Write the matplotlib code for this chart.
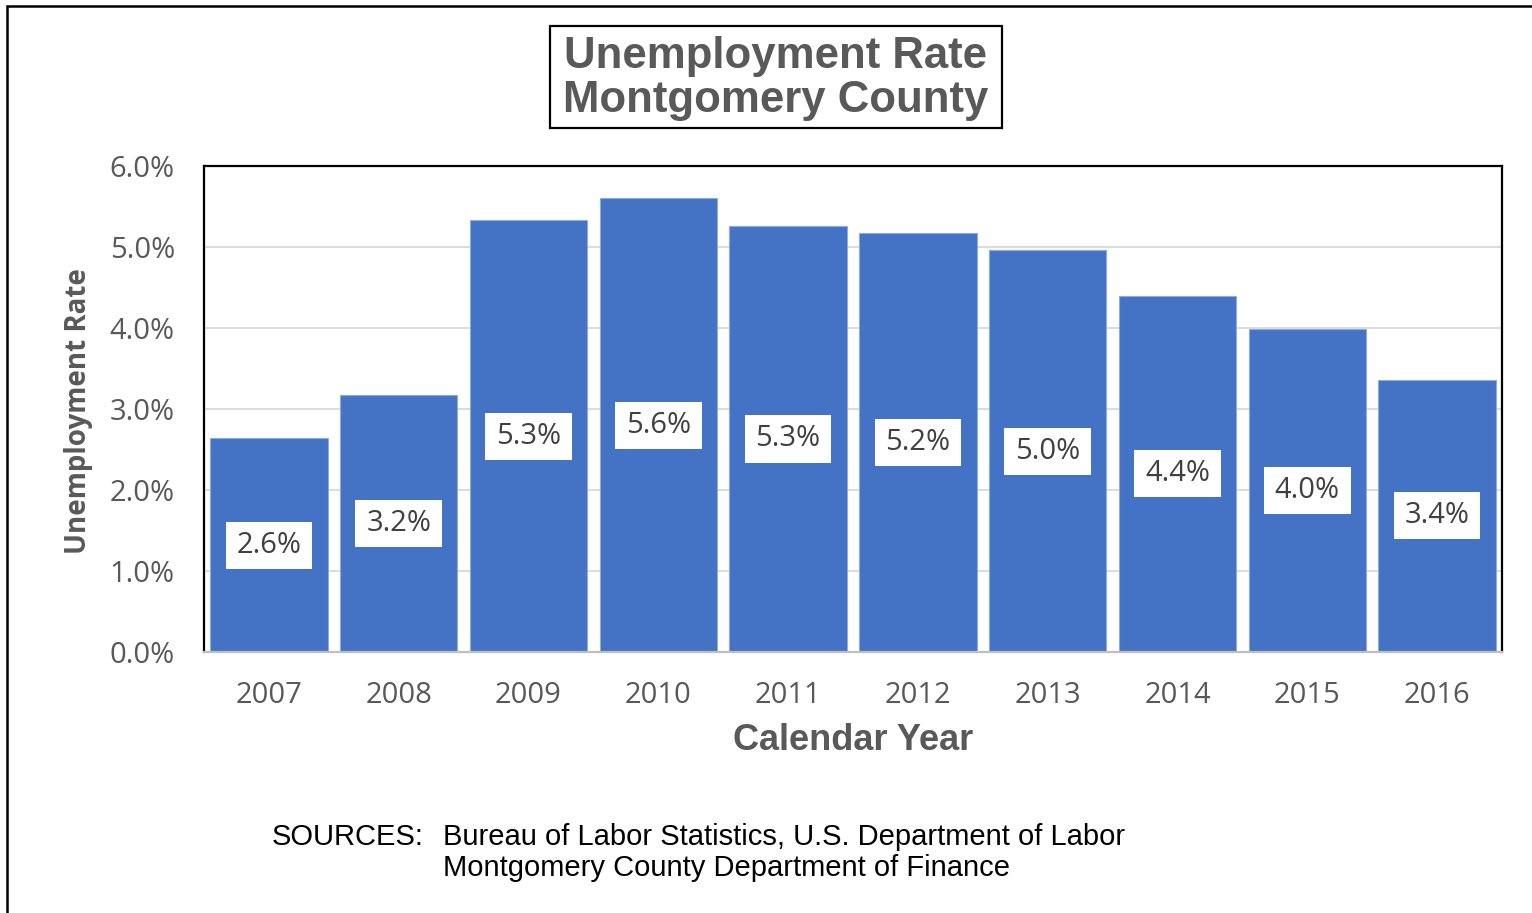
"""Unemployment rate bar chart, Montgomery County 2007-2016."""

import matplotlib
matplotlib.use("Agg")
import matplotlib.pyplot as plt
from matplotlib.patches import Rectangle
from matplotlib.path import Path
from matplotlib.ticker import MultipleLocator, FuncFormatter

years = ["2007", "2008", "2009", "2010", "2011", "2012", "2013", "2014", "2015", "2016"]
rates = [2.64, 3.17, 5.33, 5.60, 5.26, 5.17, 4.96, 4.40, 3.99, 3.36]
title_lines = ["Unemployment Rate", "Montgomery County"]
source_head = "SOURCES:"
source_lines = ["Bureau of Labor Statistics, U.S. Department of Labor",
                "Montgomery County Department of Finance"]

W, H = 1532, 913
BLUE = "#4472C4"
GREY = "#595959"
UI = ["Open Sans", "DejaVu Sans"]
ARIAL = ["Liberation Sans", "DejaVu Sans"]
NARROW = ["Liberation Sans Narrow", "Liberation Sans", "DejaVu Sans"]


def fx(px):
    return px / W


def fy(py):
    return 1 - py / H


def label_box(x0, y0, width, height, mutation_size):
    # white label box, wider padding left/right than top/bottom
    px, py = 0.37 * mutation_size, 0.31 * mutation_size
    x0, y0 = x0 - px, y0 - py
    x1, y1 = x0 + width + 2 * px, y0 + height + 2 * py
    return Path([(x0, y0), (x1, y0), (x1, y1), (x0, y1), (x0, y0)], closed=True)


def main() -> None:
    fig = plt.figure(figsize=(W / 100, H / 100), dpi=100)
    fig.patch.set_facecolor("white")

    # outer frame (only left and top visible in the source image)
    fig.add_artist(Rectangle((fx(7), fy(920)), fx(1560) - fx(7), fy(6) - fy(920),
                             transform=fig.transFigure, fill=False,
                             edgecolor="black", linewidth=1.8, clip_on=False))

    ax = fig.add_axes([fx(204), fy(652), fx(1502) - fx(204), fy(166) - fy(652)])
    x = range(len(years))
    bars = ax.bar(x, rates, width=0.905, color=BLUE, edgecolor="#8faadc",
                  linewidth=0.8, zorder=2)
    ax.set_xlim(-0.5, len(years) - 0.5)
    ax.set_ylim(0, 6)
    ax.yaxis.set_major_locator(MultipleLocator(1))
    ax.yaxis.set_major_formatter(FuncFormatter(lambda v, _: f"{v:.1f}%"))
    ax.set_xticks(list(x), years)
    ax.grid(axis="y", color="#d9d9d9", linewidth=1.3, zorder=0)
    ax.set_axisbelow(True)
    ax.tick_params(length=0, labelsize=21, labelcolor=GREY)
    ax.tick_params(axis="y", pad=21)
    ax.tick_params(axis="x", pad=21)
    for lab in ax.get_xticklabels() + ax.get_yticklabels():
        lab.set_family(UI)
    for side in ("left", "top", "right"):
        ax.spines[side].set_color("black")
        ax.spines[side].set_linewidth(1.6)
    ax.spines["bottom"].set_color("#bfbfbf")
    ax.spines["bottom"].set_linewidth(1.6)

    ax.bar_label(bars, labels=[f"{v:.1f}%" for v in rates], label_type="center",
                 fontsize=21, color="#404040", family=UI,
                 bbox=dict(boxstyle=label_box, facecolor="white", edgecolor="none"))

    fig.text(fx(79), fy(411), "Unemployment Rate", rotation=90, ha="center",
             va="center", fontsize=20, fontweight="bold", color=GREY, family=UI)
    fig.text(fx(853), fy(741), "Calendar Year", ha="center", va="center",
             fontsize=26, fontweight="bold", color=GREY, family=ARIAL)

    # title in its own box
    fig.add_artist(Rectangle((fx(550), fy(128)), fx(1002) - fx(550), fy(26) - fy(128),
                             transform=fig.transFigure, facecolor="white",
                             edgecolor="black", linewidth=1.6))
    for i, line in enumerate(title_lines):
        fig.text(fx(776), fy(68 + 44 * i), line, ha="center", va="baseline",
                 fontsize=31.5, fontweight="bold", color=GREY, family=ARIAL)

    fig.text(fx(272), fy(845), source_head, ha="left", va="baseline",
             fontsize=21, color="black", family=NARROW)
    for i, line in enumerate(source_lines):
        fig.text(fx(443), fy(845 + 31 * i), line, ha="left", va="baseline",
                 fontsize=21, color="black", family=NARROW)

    fig.savefig("out.png", dpi=100, facecolor="white")
    plt.close(fig)


if __name__ == "__main__":
    main()
